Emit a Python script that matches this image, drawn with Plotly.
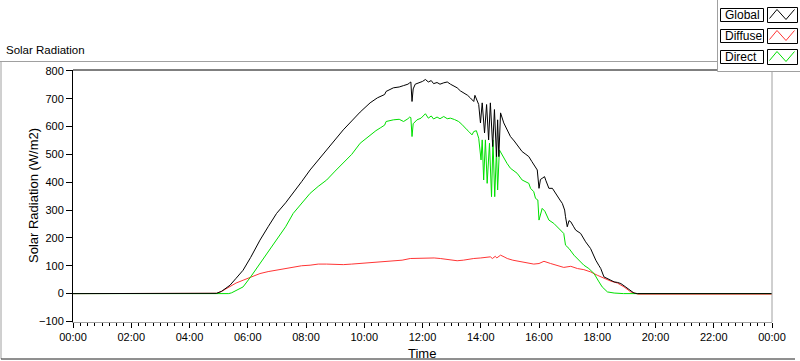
import pandas as pd
import plotly.graph_objects as go

# ---------------- data (hours of day, W/m2) ----------------
global_hours = [0.0, 4.85, 4.93, 5.1, 5.39, 5.6, 5.84, 6.1, 6.42, 6.7, 6.99, 7.3, 7.56, 7.85, 8.14, 8.42,
                8.71, 9.0, 9.28, 9.57, 9.86, 10.2, 10.45, 10.7, 10.75, 11.0, 11.2, 11.35, 11.5, 11.56, 11.6,
                11.64, 11.68, 11.75, 11.9, 12.0, 12.1, 12.2, 12.3, 12.38, 12.5, 12.6, 12.73, 12.85, 12.96,
                13.1, 13.19, 13.3, 13.41, 13.55, 13.64, 13.76, 13.8, 13.85, 13.93, 13.99, 14.05, 14.13, 14.2,
                14.27, 14.33, 14.41, 14.47, 14.54, 14.58, 14.62, 14.68, 14.79, 14.9, 15.02, 15.15, 15.25,
                15.42, 15.55, 15.65, 15.75, 15.82, 15.94, 16.0, 16.05, 16.11, 16.19, 16.24, 16.28, 16.34,
                16.46, 16.55, 16.63, 16.72, 16.8, 16.88, 16.91, 16.97, 17.03, 17.09, 17.18, 17.26, 17.43,
                17.52, 17.6, 17.77, 17.86, 17.95, 18.05, 18.12, 18.23, 18.35, 18.45, 18.58, 18.7, 18.81,
                18.92, 19.04, 19.15, 19.26, 19.38, 24.0]
global_vals = [0, 0, 1, 8, 30, 55, 84, 130, 192, 240, 288, 326, 360, 402, 444, 480,
               516, 552, 588, 620, 652, 685, 703, 715, 726, 739, 742, 747, 752, 757, 760,
               690, 735, 752, 758, 762, 769, 760, 765, 754, 758, 752, 757, 760, 752,
               745, 739, 728, 721, 712, 703, 690, 712, 700, 679, 613, 685, 577, 679,
               552, 685, 528, 661, 492, 624, 492, 649, 613, 590, 564, 548, 534,
               510, 500, 492, 475, 462, 444, 378, 410, 414, 420, 405, 396, 378,
               378, 362, 348, 336, 324, 300, 276, 240, 262, 258, 242, 228, 216,
               200, 186, 162, 140, 120, 102, 90, 60, 54, 50, 42, 40, 36,
               28, 18, 10, 2, 0, 0]

diffuse_hours = [0.0, 4.85, 4.93, 5.1, 5.39, 5.6, 5.84, 6.1, 6.42, 6.7, 6.99, 7.3, 7.56, 7.85, 8.14, 8.42,
                 8.71, 9.0, 9.28, 9.57, 9.86, 10.2, 10.43, 11.0, 11.3, 11.58, 12.15, 12.4, 12.61, 12.9,
                 13.19, 13.4, 13.6, 13.76, 14.0, 14.2, 14.33, 14.4, 14.5, 14.55, 14.68, 14.8, 14.91, 15.1,
                 15.37, 15.6, 15.82, 16.0, 16.17, 16.4, 16.63, 16.85, 17.09, 17.32, 17.54, 17.77, 18.0,
                 18.23, 18.46, 18.69, 18.92, 19.15, 19.4, 24.0]
diffuse_vals = [0, 0, 1, 8, 26, 38, 48, 60, 72, 79, 84, 90, 96, 100, 102, 106,
                106, 104, 104, 106, 108, 112, 114, 116, 120, 126, 128, 128, 126, 122,
                118, 120, 124, 126, 128, 130, 132, 126, 134, 128, 138, 132, 126, 120,
                114, 110, 106, 108, 116, 108, 102, 94, 98, 90, 86, 78, 66,
                54, 45, 38, 24, 6, -2, -2]

direct_hours = [0.0, 5.35, 5.45, 5.6, 5.84, 6.1, 6.42, 6.7, 6.99, 7.3, 7.56, 7.85, 8.14, 8.42, 8.71, 9.0,
                9.28, 9.57, 9.86, 10.2, 10.4, 10.55, 10.7, 10.75, 11.0, 11.2, 11.35, 11.5, 11.56, 11.6,
                11.64, 11.68, 11.81, 11.95, 12.1, 12.2, 12.3, 12.38, 12.5, 12.6, 12.73, 12.85, 12.96, 13.1,
                13.24, 13.35, 13.41, 13.53, 13.59, 13.7, 13.76, 13.85, 13.93, 14.01, 14.05, 14.1, 14.16,
                14.22, 14.3, 14.37, 14.42, 14.48, 14.54, 14.58, 14.64, 14.79, 14.9, 15.02, 15.15, 15.25,
                15.42, 15.55, 15.65, 15.71, 15.82, 15.88, 15.96, 16.0, 16.06, 16.11, 16.2, 16.34, 16.51,
                16.63, 16.74, 16.85, 16.91, 17.03, 17.2, 17.37, 17.54, 17.71, 17.89, 18.06, 18.17, 18.35,
                18.58, 18.9, 24.0]
direct_vals = [0, 0, 3, 10, 24, 60, 108, 150, 192, 240, 288, 325, 360, 385, 408, 440,
               468, 500, 540, 570, 585, 595, 605, 618, 624, 626, 618, 628, 634, 632,
               564, 610, 624, 630, 646, 630, 638, 627, 634, 628, 636, 628, 630, 625,
               618, 608, 600, 588, 582, 570, 582, 585, 558, 480, 552, 408, 552,
               396, 540, 348, 552, 348, 516, 372, 516, 486, 468, 450, 440, 432,
               408, 402, 396, 378, 366, 342, 336, 264, 290, 306, 296, 264, 252,
               240, 228, 216, 174, 162, 138, 120, 102, 90, 72, 42, 24, 6,
               2, 0, 0]

series_names = ["Global", "Diffuse", "Direct"]
series_colors = ["#000000", "#ff3535", "#00e000"]
y_ticks = [-100, 0, 100, 200, 300, 400, 500, 600, 700, 800]

base = pd.Timestamp("2020-01-01")


def to_time(hours):
    return base + pd.to_timedelta(pd.Series(hours), unit="h")


fig = go.Figure()
# draw order: diffuse, direct, global on top
for name, hrs, vals, col in [("Diffuse", diffuse_hours, diffuse_vals, series_colors[1]),
                             ("Direct", direct_hours, direct_vals, series_colors[2]),
                             ("Global", global_hours, global_vals, series_colors[0])]:
    fig.add_trace(go.Scatter(x=to_time(hrs), y=vals, mode="lines", name=name,
                             line=dict(color=col, width=1), showlegend=False, hoverinfo="skip"))

W, H = 800, 361
L, R, T, B = 73, 28, 70, 39
PW, PH = W - L - R, H - T - B


def px(x):
    return (x - L) / PW


def py(y):
    return (H - B - y) / PH


FONT = "Liberation Sans, Arial, sans-serif"

fig.update_layout(
    width=W, height=H, autosize=False,
    margin=dict(l=L, r=R, t=T, b=B, pad=0),
    paper_bgcolor="white", plot_bgcolor="white",
    font=dict(family=FONT, size=11, color="black"),
    xaxis=dict(
        type="date",
        range=[base, base + pd.Timedelta(hours=24)],
        dtick=2 * 3600 * 1000, tick0=base, tickformat="%H:%M",
        ticks="outside", ticklen=5, tickwidth=1, tickcolor="black",
        minor=dict(dtick=15 * 60 * 1000, ticks="outside", ticklen=3, tickcolor="black", showgrid=False),
        showline=True, linecolor="#a0a0a0", linewidth=1,
        showgrid=False, zeroline=False,
        tickfont=dict(size=11, family=FONT),
    ),
    yaxis=dict(
        range=[-102, 803],
        tickvals=y_ticks,
        ticks="outside", ticklen=6, tickwidth=1, tickcolor="black",
        showline=True, linecolor="black", linewidth=1,
        showgrid=False, zeroline=False,
        tickfont=dict(size=11, family=FONT),
    ),
)

shapes = []
# plot frame: top black, right gray
shapes.append(dict(type="line", xref="paper", yref="paper", x0=0, x1=1, y0=1, y1=1,
                   line=dict(color="black", width=1)))
shapes.append(dict(type="line", xref="paper", yref="paper", x0=1, x1=1, y0=0, y1=1,
                   line=dict(color="#a0a0a0", width=1)))
# outer panel frame
shapes.append(dict(type="line", xref="paper", yref="paper", x0=px(0), x1=px(717), y0=py(61.5), y1=py(61.5),
                   line=dict(color="#a0a0a0", width=1)))
shapes.append(dict(type="line", xref="paper", yref="paper", x0=px(1), x1=px(1), y0=py(61.5), y1=py(359),
                   line=dict(color="#a0a0a0", width=1)))
shapes.append(dict(type="line", xref="paper", yref="paper", x0=px(1), x1=px(795), y0=py(359), y1=py(359),
                   line=dict(color="#202020", width=1)))
# legend panel
shapes.append(dict(type="rect", xref="paper", yref="paper", x0=px(717.5), x1=px(801), y0=py(-1), y1=py(71.5),
                   line=dict(width=0), fillcolor="white", layer="above"))
shapes.append(dict(type="line", xref="paper", yref="paper", x0=px(717.5), x1=px(717.5), y0=py(0), y1=py(71.5),
                   line=dict(color="#a0a0a0", width=1), layer="above"))
shapes.append(dict(type="line", xref="paper", yref="paper", x0=px(717.5), x1=px(800), y0=py(71.5), y1=py(71.5),
                   line=dict(color="#a0a0a0", width=1), layer="above"))

annotations = []
for i, (name, col) in enumerate(zip(series_names, series_colors)):
    top = 7.5 + 21 * i
    # label box
    shapes.append(dict(type="rect", xref="paper", yref="paper", x0=px(720.5), x1=px(763.5),
                       y0=py(top + 14), y1=py(top + 1), line=dict(color="black", width=1),
                       fillcolor="white", layer="above"))
    # swatch box
    shapes.append(dict(type="rect", xref="paper", yref="paper", x0=px(767.5), x1=px(797.5),
                       y0=py(top + 15), y1=py(top), line=dict(color="black", width=1),
                       fillcolor="white", layer="above"))
    zz = [(2, 11), (9.5, 2), (18.5, 12), (27, 2)]
    path = " ".join(("M" if k == 0 else "L") + f" {px(767.5 + dx):.5f},{py(top + dy):.5f}"
                    for k, (dx, dy) in enumerate(zz))
    shapes.append(dict(type="path", xref="paper", yref="paper", path=path,
                       line=dict(color=col, width=1), layer="above"))
    annotations.append(dict(xref="paper", yref="paper", x=px(722.5), y=py(top + 7.5), text=name,
                            showarrow=False, xanchor="left", yanchor="middle",
                            font=dict(size=12, family=FONT, color="black")))

annotations.append(dict(xref="paper", yref="paper", x=px(4), y=py(50), text="Solar Radiation",
                        showarrow=False, xanchor="left", yanchor="middle",
                        font=dict(size=11.5, family=FONT, color="black")))
annotations.append(dict(xref="paper", yref="paper", x=px(33), y=py(196), text="Solar Radiation (W/m2)",
                        showarrow=False, xanchor="center", yanchor="middle", textangle=-90,
                        font=dict(size=13, family=FONT, color="black")))
annotations.append(dict(xref="paper", yref="paper", x=px(422), y=py(353), text="Time",
                        showarrow=False, xanchor="center", yanchor="middle",
                        font=dict(size=13, family=FONT, color="black")))

fig.update_layout(shapes=shapes, annotations=annotations)

fig.write_html("out.html", config={"displayModeBar": False})
with open("out.html", "r", encoding="utf-8") as f:
    html = f.read()
html = html.replace("<head>", "<head><style>html,body{margin:0;padding:0;overflow:hidden;}</style>", 1)
with open("out.html", "w", encoding="utf-8") as f:
    f.write(html)
